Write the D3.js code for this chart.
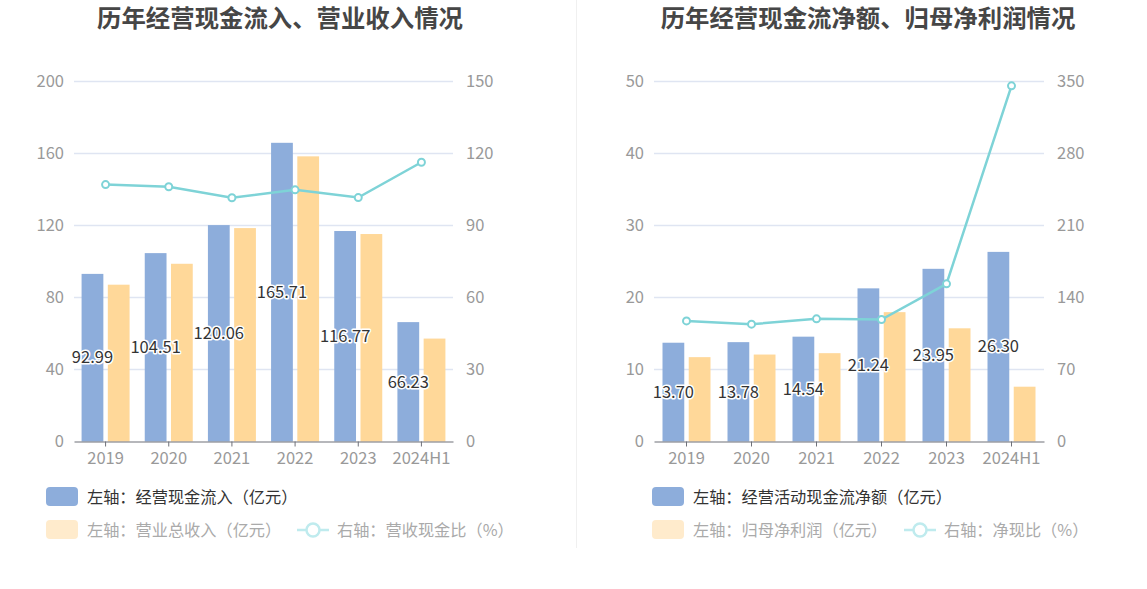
<!DOCTYPE html>
<html>
<head>
<meta charset="utf-8">
<script src="https://cdn.jsdelivr.net/npm/d3@7"></script>
<style>
  body { margin: 0; background: #fff; }
  svg { font-family: "Noto Sans CJK SC", "Noto Sans", sans-serif; }
</style>
</head>
<body>
<script>
'use strict';

// categories shared by both charts
let years = ['2019', '2020', '2021', '2022', '2023', '2024H1'];

// left chart: cash inflow / revenue (亿元), ratio (%)
let cashIn = [92.99, 104.51, 120.06, 165.71, 116.77, 66.23];
let revenue = [87.0, 98.6, 118.4, 158.2, 115.1, 57.1];
let cashRatio = [106.9, 106.0, 101.4, 104.7, 101.5, 116.2];
let leftTicksL = [0, 40, 80, 120, 160, 200];
let leftTicksR = [0, 30, 60, 90, 120, 150];

// right chart: net operating cash flow / net profit (亿元), ratio (%)
let netCash = [13.70, 13.78, 14.54, 21.24, 23.95, 26.30];
let netProfit = [11.7, 12.06, 12.25, 17.94, 15.7, 7.6];
let netRatio = [117.1, 113.9, 119.1, 118.4, 153.1, 345.3];
let rightTicksL = [0, 10, 20, 30, 40, 50];
let rightTicksR = [0, 70, 140, 210, 280, 350];

let W = 1147, H = 589;
let blue = '#8DADDB', orange = '#FFD899', teal = '#7ED3D7';

let svg = d3.select('body').append('svg').attr('width', W).attr('height', H);

// thin divider between the two panels
svg.append('line').attr('x1', 576.5).attr('x2', 576.5).attr('y1', 0).attr('y2', 548)
  .attr('stroke', '#f0f0f0').attr('stroke-width', 1);

function panel(cfg) {
  let g = svg.append('g');
  let top = 81, bottom = 441.5;

  g.append('text').attr('x', cfg.titleX).attr('y', 27)
    .attr('text-anchor', 'middle').attr('font-size', 24.4).attr('font-weight', 'bold')
    .attr('fill', '#464646').text(cfg.title);

  let x = d3.scaleBand().domain(years).range([cfg.left, cfg.right]);
  let x1 = d3.scaleBand().domain(['a', 'b']).range([-24, 24]).paddingInner(0.17);
  let yL = d3.scaleLinear().domain([0, d3.max(cfg.ticksL)]).range([bottom, top]);
  let yR = d3.scaleLinear().domain([0, d3.max(cfg.ticksR)]).range([bottom, top]);

  // gridlines
  g.append('g').selectAll('line').data(cfg.ticksL.slice(1)).enter().append('line')
    .attr('x1', cfg.left).attr('x2', cfg.right)
    .attr('y1', d => Math.round(yL(d)) + 0.5).attr('y2', d => Math.round(yL(d)) + 0.5)
    .attr('stroke', '#DFE5F2').attr('stroke-width', 1.3);

  // left axis labels
  g.append('g').selectAll('text').data(cfg.ticksL).enter().append('text')
    .attr('x', cfg.left - 10).attr('y', d => yL(d)).attr('dy', '0.35em')
    .attr('text-anchor', 'end').attr('font-size', 16.5).attr('fill', '#999')
    .text(d => d);

  // right axis labels
  g.append('g').selectAll('text').data(cfg.ticksR).enter().append('text')
    .attr('x', cfg.right + 13).attr('y', d => yR(d)).attr('dy', '0.35em')
    .attr('text-anchor', 'start').attr('font-size', 16.5).attr('fill', '#999')
    .text(d => d);

  // bars
  let bars = g.append('g');
  bars.selectAll('rect.a').data(cfg.barA).enter().append('rect')
    .attr('x', (d, i) => x(years[i]) + x.bandwidth() / 2 + x1('a'))
    .attr('width', x1.bandwidth())
    .attr('y', d => yL(d)).attr('height', d => bottom - yL(d))
    .attr('fill', blue);
  bars.selectAll('rect.b').data(cfg.barB).enter().append('rect')
    .attr('x', (d, i) => x(years[i]) + x.bandwidth() / 2 + x1('b'))
    .attr('width', x1.bandwidth())
    .attr('y', d => yL(d)).attr('height', d => bottom - yL(d))
    .attr('fill', orange);

  // x axis
  let xAxis = g.append('g').attr('transform', `translate(0,${bottom})`)
    .call(d3.axisBottom(x).tickSize(5).tickPadding(6).tickSizeOuter(0));
  xAxis.select('.domain').attr('stroke', '#6E7079').attr('stroke-width', 1.2);
  xAxis.selectAll('.tick line').attr('stroke', '#6E7079');
  xAxis.selectAll('.tick text').attr('font-size', 16.5).attr('fill', '#999')
    .attr('font-family', '"Noto Sans CJK SC", "Noto Sans", sans-serif');

  // ratio line
  let lineGen = d3.line().x((d, i) => x(years[i]) + x.bandwidth() / 2).y(d => yR(d));
  g.append('path').datum(cfg.line).attr('fill', 'none').attr('stroke', teal)
    .attr('stroke-width', 2.5).attr('d', lineGen);
  g.append('g').selectAll('circle').data(cfg.line).enter().append('circle')
    .attr('cx', (d, i) => x(years[i]) + x.bandwidth() / 2).attr('cy', d => yR(d))
    .attr('r', 3.5).attr('fill', '#fff').attr('stroke', teal).attr('stroke-width', 2);

  // value labels on blue bars
  g.append('g').selectAll('text').data(cfg.barA).enter().append('text')
    .attr('x', (d, i) => x(years[i]) + x.bandwidth() / 2 + x1('a') + x1.bandwidth() / 2)
    .attr('y', d => (yL(d) + bottom) / 2).attr('dy', '0.35em')
    .attr('text-anchor', 'middle').attr('font-size', 16.5).attr('fill', '#333')
    .attr('stroke', '#fff').attr('stroke-width', 3).attr('paint-order', 'stroke')
    .attr('stroke-linejoin', 'round')
    .text(d => d.toFixed(2));

  // legend
  let lg = g.append('g');
  let lx = cfg.legendX;
  lg.append('rect').attr('x', lx).attr('y', 487).attr('width', 32).attr('height', 19)
    .attr('rx', 4).attr('fill', blue);
  lg.append('text').attr('x', lx + 41).attr('y', 497).attr('dy', '0.35em')
    .attr('font-size', 16.2).attr('fill', '#333').text(cfg.legend[0]);
  lg.append('rect').attr('x', lx).attr('y', 520).attr('width', 32).attr('height', 19)
    .attr('rx', 4).attr('fill', '#FFEBCC');
  lg.append('text').attr('x', lx + 41).attr('y', 530).attr('dy', '0.35em')
    .attr('font-size', 16.2).attr('fill', '#AAA').text(cfg.legend[1]);
  let ix = cfg.iconX;
  lg.append('line').attr('x1', ix).attr('x2', ix + 32).attr('y1', 530).attr('y2', 530)
    .attr('stroke', '#BFEBEE').attr('stroke-width', 2.5);
  lg.append('circle').attr('cx', ix + 16).attr('cy', 530).attr('r', 6.5)
    .attr('fill', '#fff').attr('stroke', '#BFEBEE').attr('stroke-width', 2.5);
  lg.append('text').attr('x', ix + 40).attr('y', 530).attr('dy', '0.35em')
    .attr('font-size', 16.2).attr('fill', '#AAA').text(cfg.legend[2]);
}

panel({
  title: '历年经营现金流入、营业收入情况', titleX: 280,
  left: 74, right: 453,
  ticksL: leftTicksL, ticksR: leftTicksR,
  barA: cashIn, barB: revenue, line: cashRatio,
  legendX: 46, iconX: 297,
  legend: ['左轴：经营现金流入（亿元）', '左轴：营业总收入（亿元）', '右轴：营收现金比（%）']
});

panel({
  title: '历年经营现金流净额、归母净利润情况', titleX: 868,
  left: 654, right: 1044,
  ticksL: rightTicksL, ticksR: rightTicksR,
  barA: netCash, barB: netProfit, line: netRatio,
  legendX: 652, iconX: 904,
  legend: ['左轴：经营活动现金流净额（亿元）', '左轴：归母净利润（亿元）', '右轴：净现比（%）']
});
</script>
</body>
</html>
